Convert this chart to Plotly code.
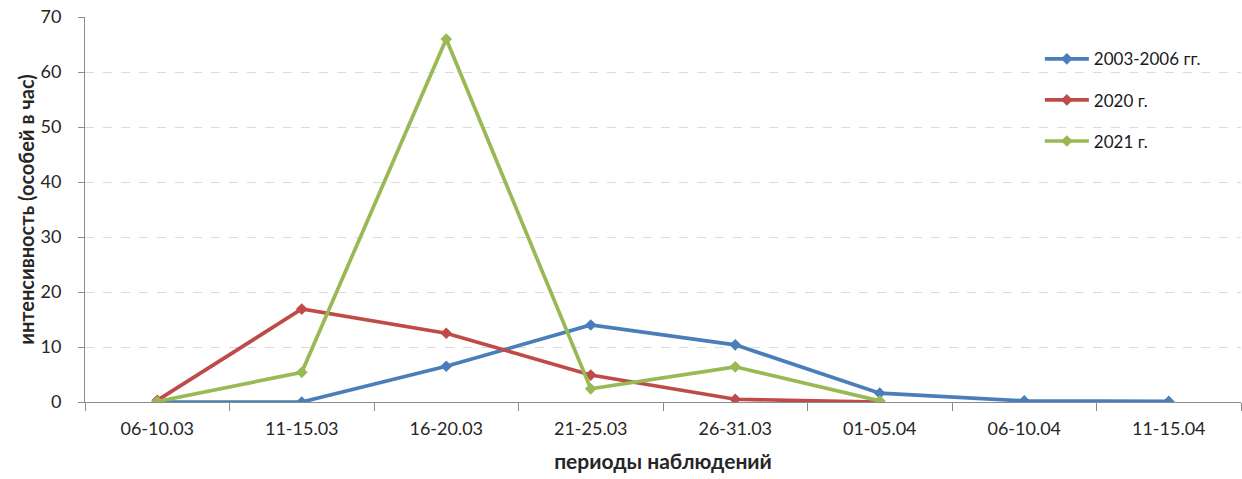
import plotly.graph_objects as go

periods = ["06-10.03", "11-15.03", "16-20.03", "21-25.03", "26-31.03",
           "01-05.04", "06-10.04", "11-15.04"]

s_2003_2006 = [0.0, 0.0, 6.5, 14.0, 10.4, 1.6, 0.2, 0.1]
s_2020 = [0.3, 16.9, 12.5, 4.9, 0.5, 0.0]
s_2021 = [0.1, 5.4, 66.0, 2.4, 6.4, 0.2]

series = [
    ("2003-2006 гг.", s_2003_2006, "#4A7EBB"),
    ("2020 г.", s_2020, "#BE4B48"),
    ("2021 г.", s_2021, "#98B954"),
]

font_family = "Lato, 'Open Sans', sans-serif"

fig = go.Figure()
for i, (name, vals, color) in enumerate(series):
    fig.add_trace(go.Scatter(
        x=periods[:len(vals)], y=vals, name=name, mode="lines+markers",
        line=dict(color=color, width=3.7),
        marker=dict(symbol="diamond", size=9, color=color),
        legendgroup=f"g{i}",
    ))

fig.update_layout(
    width=1242, height=479,
    margin=dict(l=85, r=1, t=17, b=77),
    plot_bgcolor="white", paper_bgcolor="white",
    font=dict(family=font_family, size=18, color="#262626"),
    showlegend=True,
    legend=dict(
        x=0.826, y=0.937, xanchor="left", yanchor="top",
        bgcolor="rgba(0,0,0,0)", tracegroupgap=16,
        font=dict(size=17, color="#1a1a1a"), itemwidth=44,
    ),
    xaxis=dict(
        type="category", categoryorder="array", categoryarray=periods,
        range=[-0.5, 7.5],
        showline=True, linecolor="#8c8c8c", linewidth=1,
        ticks="outside", tickson="boundaries", ticklen=8, tickcolor="#8c8c8c",
        ticklabelstandoff=10,
        showgrid=False,
        title=dict(text="<b>периоды наблюдений</b>", font=dict(size=21), standoff=16),
    ),
    yaxis=dict(
        range=[0, 70], dtick=10,
        showline=True, linecolor="#8c8c8c", linewidth=1,
        ticks="outside", ticklen=6, tickcolor="#8c8c8c",
        ticklabelstandoff=13,
        showgrid=True, gridcolor="#dcdcdc", griddash="dash", gridwidth=1,
        zeroline=False,
        title=dict(text="<b>интенсивность (особей в час)</b>", font=dict(size=20), standoff=0),
    ),
)

fig.write_html("out.html")
